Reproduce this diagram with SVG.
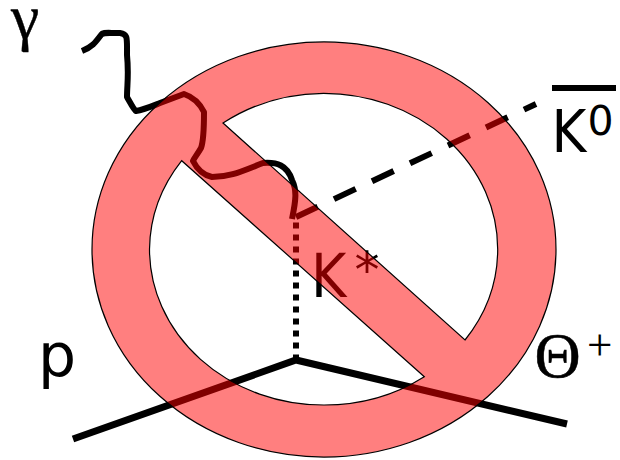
<svg xmlns="http://www.w3.org/2000/svg" width="620" height="460" viewBox="0 0 620 460">
<style>
.l{fill:none;stroke:#000;stroke-linecap:butt}
.s{font-family:"DejaVu Sans",sans-serif;fill:#000}
.c{font-family:"DejaVu Sans",sans-serif;font-stretch:condensed;fill:#000}
.r{font-family:"Liberation Serif",serif;fill:#000}
</style>
<rect width="620" height="460" fill="#fff"/>
<g id="connectors">
<path id="photon" class="l" stroke-width="6" stroke-linejoin="round" d="M82 51C92 47 95 43 101 35C103 32 106 33 120 33C128 34 127 38 127 55C129 75 127 85 127 97C131 104 134 110 136 111C143 110 150 107 160 103L184 94C190 96 198 100 204 112C204 125 204 140 201 148C197 155 194 158 193 161C197 169 202 175 212 177C230 177 240 172 263 163C277 162 287 165 292 180C297 190 296 200 292 219"/>
<path id="kaon" class="l" stroke-width="6" stroke-dasharray="24 18" d="M296 217L536 104"/>
<path id="exchange" class="l" stroke-width="6" stroke-dasharray="6 6" d="M296 222.5V360"/>
<path id="baryon" class="l" stroke-width="7" d="M73 439L296 360L567 424"/>
<path id="kbar" class="l" stroke-width="6" d="M552 88H616"/>
</g>
<g id="labels">
<text class="r" x="11" y="38" font-size="64" stroke="#000" stroke-width=".4">γ</text>
<text class="c" x="551.5" y="152" font-size="59">K</text>
<text class="s" x="587.5" y="134.5" font-size="41">0</text>
<text class="c" x="311" y="297" font-size="60">K</text>
<text class="s" x="354.5" y="287" font-size="50">*</text>
<text class="s" x="38" y="376" font-size="60">p</text>
<text class="r" x="534.5" y="377" font-size="64" stroke="#000" stroke-width=".5">Θ</text>
<text class="r" x="587" y="360" font-size="45">+</text>
</g>
<g id="prohibition">
<path fill="#f00" fill-opacity=".5" fill-rule="evenodd" stroke="#000" stroke-width="1.2" d="M92 249.5A232 207.5 0 1 1 556 249.5A232 207.5 0 1 1 92 249.5ZM223 123L465 340A174.1 155.9 0 0 0 497.7 249.2A174.1 155.9 0 0 0 323.6 93.3A174.1 155.9 0 0 0 223 123ZM181.7 160.7A174.1 155.9 0 0 0 149.5 249.2A174.1 155.9 0 0 0 323.6 405A174.1 155.9 0 0 0 424.3 376.7Z"/>
</g>
</svg>
